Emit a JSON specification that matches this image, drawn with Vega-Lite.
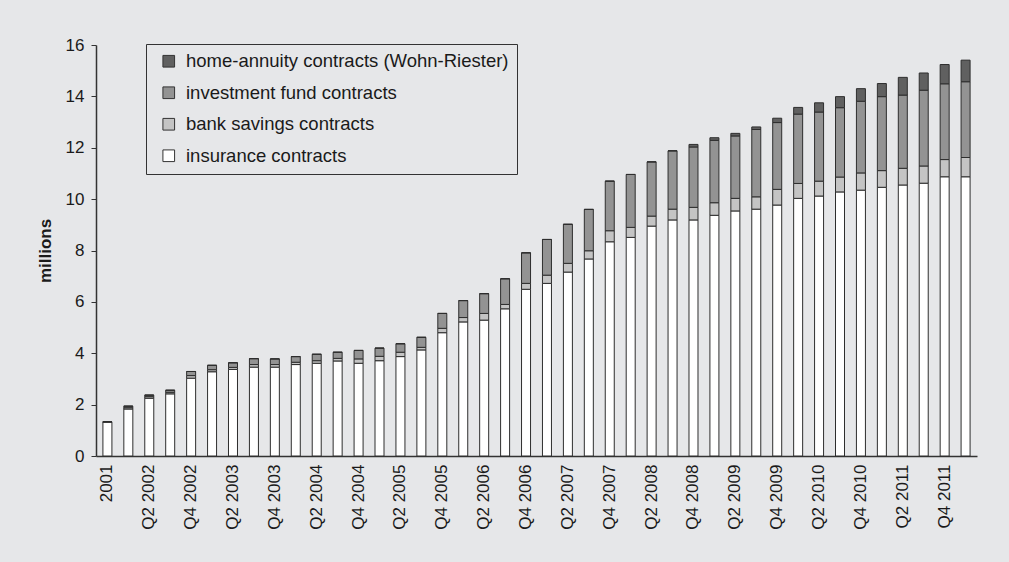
{
  "$schema": "https://vega.github.io/schema/vega-lite/v6.json",
  "width": 881,
  "height": 411,
  "autosize": {"type": "none"},
  "padding": {"left": 96, "top": 45, "right": 32, "bottom": 106},
  "background": "#e6e7e9",
  "config": {
    "view": {"stroke": null},
    "font": "Liberation Sans",
    "axis": {"labelFont": "Liberation Sans", "titleFont": "Liberation Sans", "labelColor": "#1a1a1a", "titleColor": "#1a1a1a"},
    "legend": {"labelFont": "Liberation Sans"}
  },
  "datasets": {
    "layers": [
      {"type": "insurance contracts", "stackRank": 1},
      {"type": "bank savings contracts", "stackRank": 2},
      {"type": "investment fund contracts", "stackRank": 3},
      {"type": "home-annuity contracts (Wohn-Riester)", "stackRank": 4}
    ]
  },
  "data": {"values": [
    {"q": "2001", "insurance contracts": 1.33, "bank savings contracts": 0, "investment fund contracts": 0, "home-annuity contracts (Wohn-Riester)": 0},
    {"q": "Q1 2002", "insurance contracts": 1.83, "bank savings contracts": 0.05, "investment fund contracts": 0.06, "home-annuity contracts (Wohn-Riester)": 0},
    {"q": "Q2 2002", "insurance contracts": 2.25, "bank savings contracts": 0.06, "investment fund contracts": 0.06, "home-annuity contracts (Wohn-Riester)": 0},
    {"q": "Q3 2002", "insurance contracts": 2.42, "bank savings contracts": 0.06, "investment fund contracts": 0.08, "home-annuity contracts (Wohn-Riester)": 0},
    {"q": "Q4 2002", "insurance contracts": 3.03, "bank savings contracts": 0.1, "investment fund contracts": 0.16, "home-annuity contracts (Wohn-Riester)": 0},
    {"q": "Q1 2003", "insurance contracts": 3.28, "bank savings contracts": 0.08, "investment fund contracts": 0.17, "home-annuity contracts (Wohn-Riester)": 0},
    {"q": "Q2 2003", "insurance contracts": 3.37, "bank savings contracts": 0.08, "investment fund contracts": 0.18, "home-annuity contracts (Wohn-Riester)": 0},
    {"q": "Q3 2003", "insurance contracts": 3.46, "bank savings contracts": 0.1, "investment fund contracts": 0.23, "home-annuity contracts (Wohn-Riester)": 0},
    {"q": "Q4 2003", "insurance contracts": 3.46, "bank savings contracts": 0.1, "investment fund contracts": 0.22, "home-annuity contracts (Wohn-Riester)": 0},
    {"q": "Q1 2004", "insurance contracts": 3.56, "bank savings contracts": 0.09, "investment fund contracts": 0.22, "home-annuity contracts (Wohn-Riester)": 0},
    {"q": "Q2 2004", "insurance contracts": 3.61, "bank savings contracts": 0.1, "investment fund contracts": 0.25, "home-annuity contracts (Wohn-Riester)": 0},
    {"q": "Q3 2004", "insurance contracts": 3.7, "bank savings contracts": 0.1, "investment fund contracts": 0.24, "home-annuity contracts (Wohn-Riester)": 0},
    {"q": "Q4 2004", "insurance contracts": 3.61, "bank savings contracts": 0.17, "investment fund contracts": 0.33, "home-annuity contracts (Wohn-Riester)": 0},
    {"q": "Q1 2005", "insurance contracts": 3.71, "bank savings contracts": 0.17, "investment fund contracts": 0.32, "home-annuity contracts (Wohn-Riester)": 0},
    {"q": "Q2 2005", "insurance contracts": 3.87, "bank savings contracts": 0.17, "investment fund contracts": 0.33, "home-annuity contracts (Wohn-Riester)": 0},
    {"q": "Q3 2005", "insurance contracts": 4.13, "bank savings contracts": 0.1, "investment fund contracts": 0.39, "home-annuity contracts (Wohn-Riester)": 0},
    {"q": "Q4 2005", "insurance contracts": 4.8, "bank savings contracts": 0.17, "investment fund contracts": 0.58, "home-annuity contracts (Wohn-Riester)": 0},
    {"q": "Q1 2006", "insurance contracts": 5.22, "bank savings contracts": 0.17, "investment fund contracts": 0.66, "home-annuity contracts (Wohn-Riester)": 0},
    {"q": "Q2 2006", "insurance contracts": 5.29, "bank savings contracts": 0.26, "investment fund contracts": 0.77, "home-annuity contracts (Wohn-Riester)": 0},
    {"q": "Q3 2006", "insurance contracts": 5.73, "bank savings contracts": 0.17, "investment fund contracts": 1.0, "home-annuity contracts (Wohn-Riester)": 0},
    {"q": "Q4 2006", "insurance contracts": 6.49, "bank savings contracts": 0.23, "investment fund contracts": 1.19, "home-annuity contracts (Wohn-Riester)": 0},
    {"q": "Q1 2007", "insurance contracts": 6.72, "bank savings contracts": 0.32, "investment fund contracts": 1.39, "home-annuity contracts (Wohn-Riester)": 0},
    {"q": "Q2 2007", "insurance contracts": 7.16, "bank savings contracts": 0.34, "investment fund contracts": 1.52, "home-annuity contracts (Wohn-Riester)": 0},
    {"q": "Q3 2007", "insurance contracts": 7.67, "bank savings contracts": 0.32, "investment fund contracts": 1.61, "home-annuity contracts (Wohn-Riester)": 0},
    {"q": "Q4 2007", "insurance contracts": 8.34, "bank savings contracts": 0.43, "investment fund contracts": 1.93, "home-annuity contracts (Wohn-Riester)": 0},
    {"q": "Q1 2008", "insurance contracts": 8.51, "bank savings contracts": 0.39, "investment fund contracts": 2.06, "home-annuity contracts (Wohn-Riester)": 0},
    {"q": "Q2 2008", "insurance contracts": 8.95, "bank savings contracts": 0.39, "investment fund contracts": 2.11, "home-annuity contracts (Wohn-Riester)": 0},
    {"q": "Q3 2008", "insurance contracts": 9.19, "bank savings contracts": 0.42, "investment fund contracts": 2.27, "home-annuity contracts (Wohn-Riester)": 0},
    {"q": "Q4 2008", "insurance contracts": 9.19, "bank savings contracts": 0.49, "investment fund contracts": 2.35, "home-annuity contracts (Wohn-Riester)": 0.1},
    {"q": "Q1 2009", "insurance contracts": 9.37, "bank savings contracts": 0.49, "investment fund contracts": 2.43, "home-annuity contracts (Wohn-Riester)": 0.1},
    {"q": "Q2 2009", "insurance contracts": 9.54, "bank savings contracts": 0.49, "investment fund contracts": 2.43, "home-annuity contracts (Wohn-Riester)": 0.1},
    {"q": "Q3 2009", "insurance contracts": 9.61, "bank savings contracts": 0.48, "investment fund contracts": 2.62, "home-annuity contracts (Wohn-Riester)": 0.1},
    {"q": "Q4 2009", "insurance contracts": 9.77, "bank savings contracts": 0.61, "investment fund contracts": 2.6, "home-annuity contracts (Wohn-Riester)": 0.17},
    {"q": "Q1 2010", "insurance contracts": 10.03, "bank savings contracts": 0.58, "investment fund contracts": 2.7, "home-annuity contracts (Wohn-Riester)": 0.26},
    {"q": "Q2 2010", "insurance contracts": 10.12, "bank savings contracts": 0.58, "investment fund contracts": 2.69, "home-annuity contracts (Wohn-Riester)": 0.36},
    {"q": "Q3 2010", "insurance contracts": 10.28, "bank savings contracts": 0.58, "investment fund contracts": 2.7, "home-annuity contracts (Wohn-Riester)": 0.43},
    {"q": "Q4 2010", "insurance contracts": 10.35, "bank savings contracts": 0.67, "investment fund contracts": 2.79, "home-annuity contracts (Wohn-Riester)": 0.49},
    {"q": "Q1 2011", "insurance contracts": 10.46, "bank savings contracts": 0.65, "investment fund contracts": 2.88, "home-annuity contracts (Wohn-Riester)": 0.51},
    {"q": "Q2 2011", "insurance contracts": 10.55, "bank savings contracts": 0.65, "investment fund contracts": 2.85, "home-annuity contracts (Wohn-Riester)": 0.69},
    {"q": "Q3 2011", "insurance contracts": 10.62, "bank savings contracts": 0.67, "investment fund contracts": 2.95, "home-annuity contracts (Wohn-Riester)": 0.67},
    {"q": "Q4 2011", "insurance contracts": 10.87, "bank savings contracts": 0.67, "investment fund contracts": 2.95, "home-annuity contracts (Wohn-Riester)": 0.75},
    {"q": "Q1 2012", "insurance contracts": 10.87, "bank savings contracts": 0.75, "investment fund contracts": 2.95, "home-annuity contracts (Wohn-Riester)": 0.84}
  ]},
  "transform": [
    {"fold": ["insurance contracts", "bank savings contracts", "investment fund contracts", "home-annuity contracts (Wohn-Riester)"], "as": ["type", "value"]},
    {"lookup": "type", "from": {"data": {"name": "layers"}, "key": "type", "fields": ["stackRank"]}}
  ],
  "mark": {"type": "bar", "stroke": "#2e2e2e", "strokeWidth": 1},
  "encoding": {
    "x": {
      "field": "q", "type": "nominal", "sort": null,
      "scale": {"paddingInner": 0.57, "paddingOuter": 0.33},
      "axis": {
        "title": null, "labelAngle": -90, "labelFontSize": 17, "labelPadding": 8,
        "ticks": false, "domainColor": "#333333", "domainWidth": 1.5,
        "labelExpr": "indexof(datum.value, 'Q1') == 0 || indexof(datum.value, 'Q3') == 0 ? '' : datum.value"
      }
    },
    "y": {
      "field": "value", "type": "quantitative", "stack": "zero",
      "scale": {"domain": [0, 16]},
      "axis": {
        "title": "millions", "titleFontSize": 17, "titleFontWeight": "bold", "titlePadding": 11,
        "values": [0, 2, 4, 6, 8, 10, 12, 14, 16], "grid": false, "labelFontSize": 17,
        "tickSize": 5, "tickColor": "#333333", "domainColor": "#333333", "domainWidth": 1.5, "labelPadding": 7
      }
    },
    "color": {
      "field": "type", "type": "nominal",
      "scale": {
        "domain": ["home-annuity contracts (Wohn-Riester)", "investment fund contracts", "bank savings contracts", "insurance contracts"],
        "range": ["#606060", "#939393", "#c4c4c4", "#ffffff"]
      },
      "legend": {
        "title": null, "orient": "none", "legendX": 50, "legendY": -1,
        "strokeColor": "#333333", "padding": 8, "labelFontSize": 18.5, "labelColor": "#1a1a1a", "labelLimit": 400,
        "symbolType": "square", "symbolSize": 136, "symbolStrokeColor": "#333333", "symbolStrokeWidth": 1,
        "symbolOffset": 5.5, "rowPadding": 12.5, "labelOffset": 8
      }
    },
    "order": {"field": "stackRank", "type": "quantitative", "sort": "ascending"}
  }
}
